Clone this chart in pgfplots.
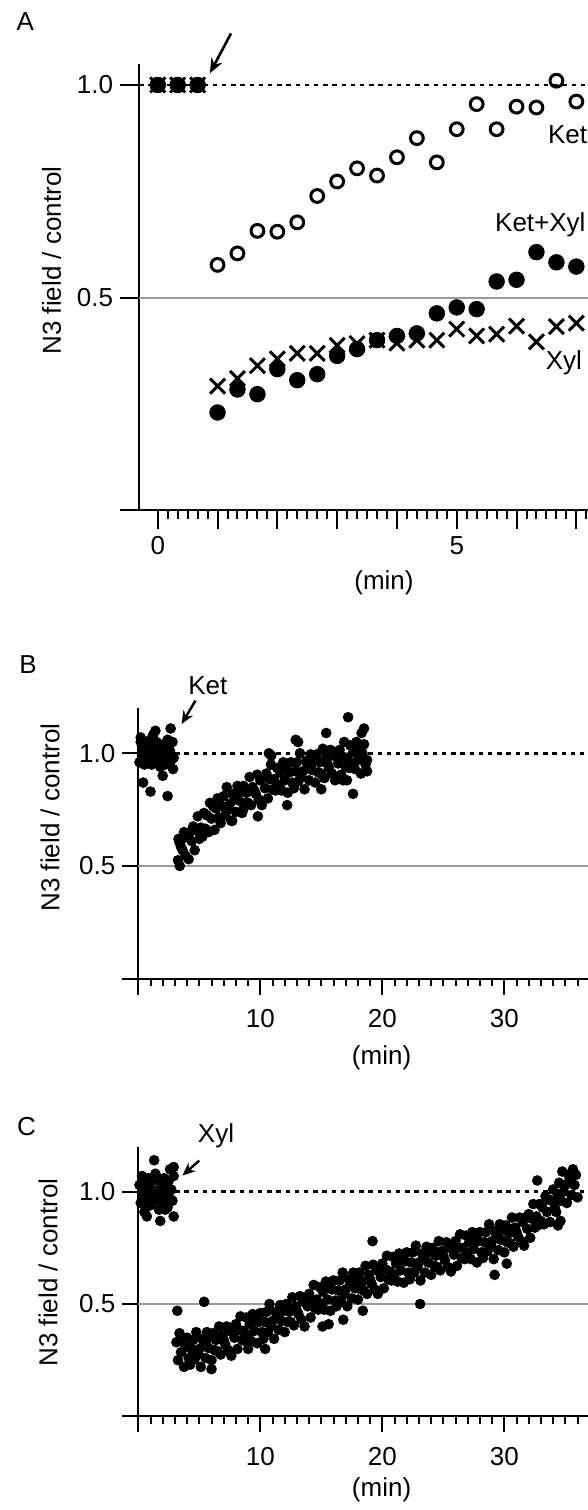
\documentclass[border=0pt]{standalone}
\usepackage{fontspec}
\setmainfont{Liberation Sans}
\usepackage{pgfplots}
\pgfplotsset{compat=1.18}
\usetikzlibrary{arrows.meta}

\pgfplotsset{
  panel/.style={
    scale only axis,
    anchor=south west,
    axis x line*=bottom, axis y line*=left,
    axis line style={line width=1pt, black},
    every tick/.style={line width=1pt, black},
    tick align=outside,
    clip=false,
    ymin=0,
    ytick={0,0.5,1}, yticklabels={,0.5,1.0},
    tick label style={font=\fontsize{13}{15}\selectfont},
  },
  dotstyle/.style={only marks, mark=*, mark size=2.45pt, black, mark options={draw=black, fill=black}},
  dashref/.style={black, line width=1.4pt, dash pattern=on 2.2pt off 2.4pt},
  grayref/.style={gray!80, line width=1pt},
}
\newcommand{\lab}{\fontsize{13}{15}\selectfont}

\pgfplotstableread{
x y
0 1.0
0.333 1.0
0.667 1.0
1.0 0.577
1.333 0.604
1.667 0.657
2.0 0.655
2.333 0.677
2.667 0.739
3.0 0.773
3.333 0.804
3.667 0.787
4.0 0.830
4.333 0.875
4.667 0.818
5.0 0.896
5.333 0.955
5.667 0.896
6.0 0.949
6.333 0.947
6.667 1.010
7.0 0.961
}\ketA

\pgfplotstableread{
x y
0 1.0
0.333 1.0
0.667 1.0
1.0 0.230
1.333 0.284
1.667 0.273
2.0 0.332
2.333 0.306
2.667 0.320
3.0 0.363
3.333 0.379
3.667 0.400
4.0 0.410
4.333 0.416
4.667 0.463
5.0 0.477
5.333 0.473
5.667 0.538
6.0 0.542
6.333 0.607
6.667 0.583
7.0 0.573
}\ketxylA

\pgfplotstableread{
x y
0 1.0
0.333 1.0
0.667 1.0
1.0 0.292
1.333 0.310
1.667 0.340
2.0 0.356
2.333 0.369
2.667 0.369
3.0 0.388
3.333 0.392
3.667 0.400
4.0 0.393
4.333 0.400
4.667 0.400
5.0 0.426
5.333 0.410
5.667 0.414
6.0 0.433
6.333 0.396
6.667 0.432
7.0 0.440
}\xylA

\pgfplotstableread{
x y
0.1 0.96
0.2 1.05
0.3 0.99
0.4 1.02
0.5 0.95
0.6 1.04
0.7 0.98
0.8 1.01
0.9 0.97
1.0 1.06
1.1 0.95
1.2 1.02
1.3 1.00
1.4 0.98
1.5 1.05
1.6 0.96
1.7 1.02
1.8 0.94
1.9 1.03
2.0 0.99
2.1 1.04
2.2 0.95
2.3 1.02
2.4 1.06
2.5 0.98
2.6 1.01
2.7 0.97
2.8 1.05
2.9 0.98
0.4 0.87
1.0 0.83
2.4 0.81
2.0 0.90
2.85 0.93
2.65 1.11
1.4 1.10
0.2 1.07
1.2 1.08
3.25 0.525
3.375 0.605
3.5 0.585
3.625 0.57
3.75 0.65
3.875 0.545
4.0 0.63
3.4 0.50
3.3 0.62
3.6 0.62
4.125 0.53
4.25 0.65
4.375 0.61
4.5 0.675
4.625 0.57
4.75 0.66
4.875 0.72
5.0 0.62
5.125 0.67
5.25 0.63
5.375 0.735
5.5 0.665
5.625 0.725
5.75 0.65
5.875 0.78
6.0 0.71
6.125 0.765
6.25 0.66
6.375 0.755
6.5 0.80
6.625 0.715
6.75 0.69
6.875 0.765
7.0 0.81
7.125 0.725
7.25 0.85
7.375 0.75
7.5 0.775
7.625 0.70
7.75 0.82
7.875 0.805
8.0 0.74
8.125 0.855
8.25 0.79
8.375 0.83
8.5 0.735
8.625 0.855
8.75 0.78
8.875 0.825
9.0 0.78
9.125 0.895
9.25 0.77
9.375 0.85
9.5 0.835
9.625 0.82
9.75 0.905
9.875 0.795
10.0 0.88
9.8 0.72
8.6 0.75
7.7 0.70
10.125 0.77
10.25 0.895
10.375 0.845
10.5 0.91
10.625 0.80
10.75 0.885
10.875 0.95
11.0 0.84
11.125 0.885
11.25 0.835
11.375 0.935
11.5 0.86
11.625 0.915
11.75 0.835
11.875 0.96
12.0 0.88
10.7 1.00
12.2 0.77
10.9 0.99
12.125 0.93
12.25 0.825
12.375 0.915
12.5 0.96
12.625 0.87
12.75 0.845
12.875 0.92
13.0 0.96
13.125 0.875
13.25 1.00
13.375 0.895
13.5 0.92
13.625 0.84
13.75 0.965
13.875 0.95
14.0 0.88
12.9 1.06
13.1 1.05
14.125 0.995
14.25 0.925
14.375 0.965
14.5 0.87
14.625 0.995
14.75 0.915
14.875 0.96
15.0 0.91
15.125 1.02
15.25 0.89
15.375 0.975
15.5 0.955
15.625 0.935
15.75 1.015
15.875 0.91
16.0 0.99
15.0 0.84
16.125 0.88
16.25 1.00
16.375 0.955
16.5 1.015
16.625 0.905
16.75 0.985
16.875 1.05
17.0 0.94
15.4 1.09
17.125 0.98
17.25 0.935
17.375 1.035
17.5 0.955
17.625 1.005
17.75 0.93
17.875 1.05
18.0 0.97
17.2 1.16
16.8 0.88
17.1 0.88
17.6 0.82
18.125 1.02
18.25 0.91
18.375 1.00
18.5 1.04
18.625 0.95
18.75 0.92
18.5 1.11
18.75 0.97
18.3 1.09
}\dataB

\pgfplotstableread{
x y
0.1 1.03
0.2 0.95
0.3 1.07
0.4 0.99
0.5 1.04
0.6 0.93
0.7 1.02
0.8 1.06
0.9 0.97
1.0 0.94
1.1 1.01
1.2 1.05
1.3 0.96
1.4 1.08
1.5 0.98
1.6 1.00
1.7 0.92
1.8 1.04
1.9 1.02
2.0 0.95
2.1 1.06
2.2 0.99
2.3 1.03
2.4 0.93
2.5 1.05
2.6 0.97
2.7 1.01
2.8 0.96
2.9 1.07
1.3 1.14
1.8 0.87
0.7 0.89
2.9 0.89
2.6 1.10
2.9 1.11
0.3 1.04
0.5 0.91
2.2 0.92
3.125 0.33
3.25 0.25
3.375 0.37
3.5 0.285
3.625 0.335
3.75 0.22
3.875 0.31
4.0 0.35
3.2 0.47
4.125 0.26
4.25 0.23
4.375 0.30
4.5 0.34
4.625 0.255
4.75 0.375
4.875 0.28
5.0 0.30
5.125 0.22
5.25 0.345
5.375 0.33
5.5 0.26
5.625 0.375
5.75 0.305
5.875 0.35
6.0 0.25
5.4 0.51
6.0 0.21
6.125 0.37
6.25 0.295
6.375 0.34
6.5 0.29
6.625 0.40
6.75 0.275
6.875 0.36
7.0 0.34
7.125 0.32
7.25 0.40
7.375 0.295
7.5 0.38
7.625 0.27
7.75 0.395
7.875 0.35
8.0 0.41
8.125 0.30
8.25 0.385
8.375 0.445
8.5 0.34
8.625 0.38
8.75 0.335
8.875 0.44
9.0 0.36
9.125 0.41
9.25 0.335
9.375 0.455
9.5 0.38
9.625 0.435
9.75 0.325
9.875 0.42
10.0 0.46
9.0 0.30
10.4 0.30
10.125 0.375
10.25 0.345
10.375 0.42
10.5 0.465
10.625 0.375
10.75 0.50
10.875 0.40
11.0 0.425
11.125 0.345
11.25 0.465
11.375 0.45
11.5 0.385
11.625 0.495
11.75 0.425
11.875 0.47
12.0 0.375
12.125 0.50
12.25 0.42
12.375 0.465
12.5 0.42
12.625 0.53
12.75 0.405
12.875 0.49
13.0 0.47
13.125 0.455
13.25 0.535
13.375 0.43
13.5 0.51
13.625 0.40
13.75 0.525
13.875 0.49
14.0 0.545
14.125 0.44
14.25 0.52
14.375 0.585
14.5 0.48
14.625 0.52
14.75 0.475
14.875 0.575
15.0 0.50
15.125 0.555
15.25 0.475
15.375 0.60
15.5 0.52
15.625 0.575
15.75 0.47
15.875 0.565
16.0 0.605
15.1 0.40
15.6 0.41
16.8 0.43
16.125 0.515
16.25 0.49
16.375 0.56
16.5 0.605
16.625 0.515
16.75 0.64
16.875 0.545
17.0 0.565
17.125 0.49
17.25 0.61
17.375 0.59
17.5 0.525
17.625 0.64
17.75 0.57
17.875 0.61
18.0 0.52
18.125 0.64
18.25 0.565
18.375 0.60
18.5 0.56
18.625 0.67
18.75 0.545
18.875 0.63
19.0 0.61
18.4 0.47
19.2 0.78
19.125 0.59
19.25 0.675
19.375 0.565
19.5 0.65
19.625 0.545
19.75 0.665
19.875 0.62
20.0 0.68
20.125 0.57
20.25 0.655
20.375 0.715
20.5 0.61
20.625 0.645
20.75 0.605
20.875 0.71
21.0 0.63
21.125 0.68
21.25 0.60
21.375 0.725
21.5 0.65
21.625 0.70
21.75 0.595
21.875 0.69
22.0 0.73
22.125 0.64
22.25 0.61
22.375 0.685
22.5 0.73
22.625 0.64
22.75 0.76
22.875 0.665
23.0 0.685
23.1 0.50
23.125 0.605
23.25 0.725
23.375 0.71
23.5 0.64
23.625 0.755
23.75 0.685
23.875 0.73
24.0 0.63
24.125 0.75
24.25 0.67
24.375 0.715
24.5 0.665
24.625 0.78
24.75 0.65
24.875 0.735
25.0 0.715
25.125 0.695
25.25 0.775
25.375 0.665
25.5 0.75
25.625 0.645
25.75 0.765
25.875 0.72
26.0 0.78
26.125 0.67
26.25 0.75
26.375 0.81
26.5 0.705
26.625 0.75
26.75 0.70
26.875 0.805
27.0 0.725
27.125 0.775
27.25 0.70
27.375 0.82
27.5 0.745
27.625 0.79
27.75 0.685
27.875 0.78
28.0 0.82
28.125 0.73
28.25 0.705
28.375 0.775
28.5 0.82
28.625 0.735
28.75 0.855
28.875 0.76
29.0 0.78
29.2 0.63
29.125 0.70
29.25 0.825
29.375 0.805
29.5 0.74
29.625 0.855
29.75 0.785
29.875 0.83
30.0 0.73
30.2 0.68
30.125 0.85
30.25 0.775
30.375 0.815
30.5 0.77
30.625 0.885
30.75 0.755
30.875 0.84
31.0 0.82
31.125 0.80
31.25 0.885
31.375 0.78
31.5 0.865
31.625 0.76
31.75 0.885
31.875 0.835
32.0 0.90
32.125 0.795
32.25 0.88
32.375 0.945
32.5 0.84
32.625 0.89
32.75 0.85
32.875 0.945
33.0 0.87
32.7 1.05
33.125 0.93
33.25 0.855
33.375 0.98
33.5 0.91
33.625 0.965
33.75 0.865
33.875 0.96
34.0 1.01
34.125 0.93
34.25 0.91
34.375 0.99
34.5 1.04
34.625 0.96
34.75 1.09
34.875 1.00
35.0 1.03
34.4 0.85
34.6 0.87
35.125 0.95
35.25 1.075
35.375 1.055
35.5 0.985
35.625 1.10
35.75 1.03
35.875 1.075
36.0 0.975
}\dataC

\begin{document}
\begin{tikzpicture}
\useasboundingbox (0pt,0pt) rectangle (294pt,-755pt);

% ---------------- Panel A ----------------
\begin{axis}[panel,
  at={(69.6pt,-255.15pt)},
  width=224.55pt, height=223.3pt,
  xmin=-0.31, xmax=7.2, ymax=1.05,
  xtick={0,1,2,3,4,5,6,7}, xticklabels={0,,,,,5,,},
  minor xtick={0,0.16667,...,7.2},
  major tick length=9.5pt, minor tick length=4.5pt,
]
\addplot[dashref] coordinates {(-0.31,1) (7.2,1)};
\addplot[grayref] coordinates {(-0.31,0.5) (7.2,0.5)};
\addplot[only marks, mark=o, mark size=3.2pt, mark options={line width=1.5pt, draw=black, fill=white}] table {\ketA};
\addplot[only marks, mark=x, mark size=5.3pt, mark options={line width=1.5pt, draw=black}] table {\xylA};
\addplot[only marks, mark=*, mark size=3.9pt, mark options={draw=black, fill=black}] table {\ketxylA};
\node[anchor=west, font=\lab] at (axis cs:6.41,0.882) {Ket};
\node[anchor=east, font=\lab, inner sep=0pt] at (axis cs:7.16,0.671) {Ket+Xyl};
\node[anchor=east, font=\lab, inner sep=0pt] at (axis cs:7.10,0.346) {Xyl};
\end{axis}
\draw[line width=1.3pt, -{Stealth[length=7.5pt,width=6pt]}] (115.5pt,-16.7pt) -- (104.9pt,-36.7pt);
\node[font=\lab] at (12.7pt,-11pt) {A};
\node[font=\lab, rotate=90] at (25.8pt,-130.25pt) {N3 field / control};
\node[font=\lab] at (192pt,-291.5pt) {(min)};

% ---------------- Panel B ----------------
\begin{axis}[panel,
  at={(69.15pt,-489.3pt)},
  width=225.1pt, height=135.2pt,
  xmin=0, xmax=36.9, ymax=1.2,
  xtick={0,10,20,30}, xticklabels={,10,20,30},
  xticklabel style={yshift=-4pt},
  minor xtick={0,1,...,36},
  major tick length=8pt, minor tick length=3.7pt,
]
\addplot[dashref] coordinates {(0,1) (36.9,1)};
\addplot[grayref] coordinates {(0,0.5) (36.9,0.5)};
\addplot[dotstyle] table {\dataB};
\end{axis}
\draw[line width=1.2pt, -{Stealth[length=6.5pt,width=5.5pt]}] (97.75pt,-350.3pt) -- (90.8pt,-362pt);
\node[font=\lab] at (103.9pt,-342.8pt) {Ket};
\node[font=\lab] at (14pt,-332.5pt) {B};
\node[font=\lab, rotate=90] at (25pt,-408.75pt) {N3 field / control};
\node[font=\lab] at (190.8pt,-529pt) {(min)};

% ---------------- Panel C ----------------
\begin{axis}[panel,
  at={(69.15pt,-708.15pt)},
  width=225.1pt, height=134.75pt,
  xmin=0, xmax=36.9, ymax=1.2,
  xtick={0,10,20,30}, xticklabels={,10,20,30},
  xticklabel style={yshift=-4pt},
  minor xtick={0,1,...,36},
  major tick length=8pt, minor tick length=3.7pt,
]
\addplot[dashref] coordinates {(0,1) (36.9,1)};
\addplot[grayref] coordinates {(0,0.5) (36.9,0.5)};
\addplot[dotstyle] table {\dataC};
\end{axis}
\draw[line width=1.2pt, -{Stealth[length=6.5pt,width=5.5pt]}] (99.6pt,-580.3pt) -- (91.2pt,-587.8pt);
\node[font=\lab] at (108pt,-567.8pt) {Xyl};
\node[font=\lab] at (13.2pt,-563.3pt) {C};
\node[font=\lab, rotate=90] at (24pt,-636.25pt) {N3 field / control};
\node[font=\lab] at (190.8pt,-745pt) {(min)};
\end{tikzpicture}
\end{document}
